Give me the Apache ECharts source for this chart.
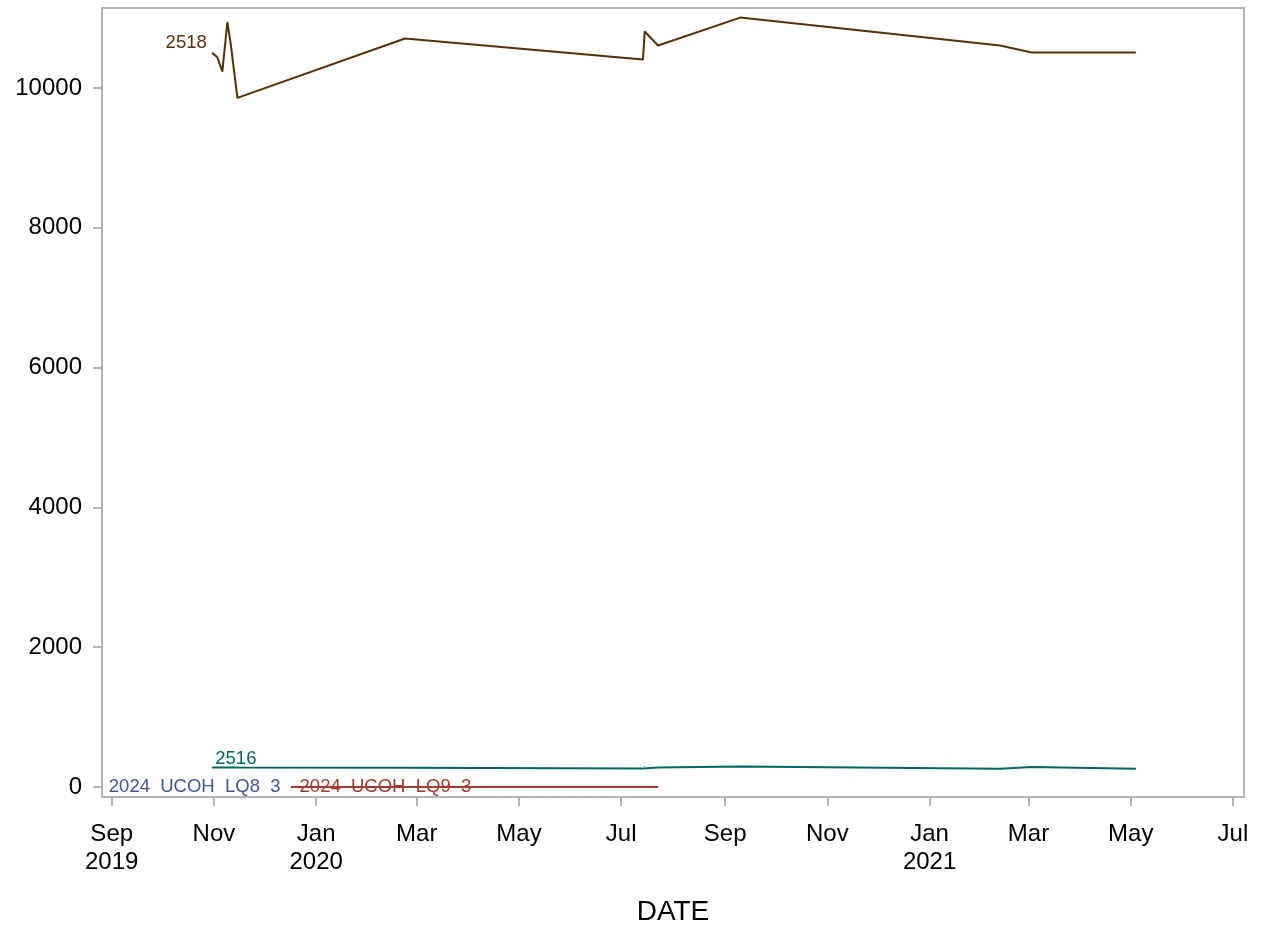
<!DOCTYPE html>
<html><head><meta charset="utf-8">
<script src="https://cdn.jsdelivr.net/npm/echarts@6/dist/echarts.min.js"></script>
<style>html,body{margin:0;padding:0;background:#fff}#c{width:1262px;height:925px}</style>
</head><body><div id="c"></div>
<script>
const tickDates = ['2019-09-01','2019-11-01','2020-01-01','2020-03-01','2020-05-01','2020-07-01','2020-09-01','2020-11-01','2021-01-01','2021-03-01','2021-05-01','2021-07-01'];
const tickLabels = ['Sep\n2019','Nov','Jan\n2020','Mar','May','Jul','Sep','Nov','Jan\n2021','Mar','May','Jul'];
const yTicks = [0, 2000, 4000, 6000, 8000, 10000];

const dates2518 = ['2019-10-31','2019-11-03','2019-11-06','2019-11-09','2019-11-11','2019-11-15','2020-02-23','2020-07-14','2020-07-15','2020-07-23','2020-09-10','2021-02-12','2021-03-03','2021-05-04'];
const values2518 = [10503, 10440, 10236, 10941, 10632, 9860, 10708, 10408, 10808, 10608, 11008, 10608, 10508, 10508];

const dates2516 = ['2019-10-31','2019-11-15','2020-02-23','2020-07-14','2020-07-15','2020-07-23','2020-09-10','2021-02-12','2021-03-03','2021-05-04'];
const values2516 = [280, 278, 275, 265, 292, 278, 292, 262, 287, 262];

const datesLQ9 = ['2019-12-17','2020-02-23','2020-07-14','2020-07-23'];
const valuesLQ9 = [0, 0, 0, 0];

const datesLQ8 = ['2019-12-17'];
const valuesLQ8 = [0];

const names = ['2024  UCOH  LQ8  3', '2024  UCOH  LQ9  3', '2516', '2518'];
const colors = ['#445694', '#A23A2E', '#01665E', '#543005'];

const DAY = 864e5;
const ts = s => { const [y, m, d] = s.split('-').map(Number); return Date.UTC(y, m - 1, d); };
const tickTs = tickDates.map(ts);
const labelMap = {};
tickTs.forEach((t, i) => labelMap[t] = tickLabels[i]);
const xMin = ts('2019-09-01') - 5.8 * DAY;
const xMax = ts('2019-09-01') + 675.6 * DAY;

const font = 'Liberation Sans, Arial, sans-serif';

function build(dates, values, labelOpt) {
  return dates.map((d, i) => {
    const item = { value: [ts(d), values[i]] };
    if (i === 0) item.label = Object.assign({ show: true, fontFamily: font, fontSize: 18.5 }, labelOpt);
    return item;
  });
}

const chart = echarts.init(document.getElementById('c'), null, { renderer: 'canvas' });
const mkSeries = (idx, data) => ({
  name: names[idx], type: 'line', data: data,
  symbol: 'circle', symbolSize: 1, showSymbol: true,
  itemStyle: { color: colors[idx] },
  lineStyle: { color: colors[idx], width: 2 },
  label: { show: false, color: colors[idx] },
  emphasis: { disabled: true }, animation: false, z: 3
});

chart.setOption({
  animation: false,
  grid: { left: 102, right: 18, top: 8, bottom: 128, outerBoundsMode: 'none', containLabel: false, show: true, borderColor: '#b4b4b4', borderWidth: 2, backgroundColor: '#fff' },
  xAxis: {
    type: 'value', min: xMin, max: xMax,
    name: 'DATE', nameLocation: 'middle', nameGap: 101,
    nameTextStyle: { fontFamily: font, fontSize: 28, color: '#000' },
    axisLine: { show: true, onZero: false, lineStyle: { color: '#b4b4b4', width: 2 } },
    axisTick: { show: true, customValues: tickTs, length: 9, lineStyle: { color: '#b4b4b4', width: 2 } },
    axisLabel: { customValues: tickTs, formatter: v => labelMap[v] || '', fontFamily: font, fontSize: 24, lineHeight: 28, color: '#000', margin: 23 },
    splitLine: { show: false }
  },
  yAxis: {
    type: 'value', min: -143, max: 11145,
    axisLine: { show: true, onZero: false, lineStyle: { color: '#b4b4b4', width: 2 } },
    axisTick: { show: true, customValues: yTicks, length: 9, lineStyle: { color: '#b4b4b4', width: 2 } },
    axisLabel: { customValues: yTicks, formatter: v => String(v), fontFamily: font, fontSize: 24, color: '#000', margin: 20 },
    splitLine: { show: false }
  },
  series: [
    mkSeries(0, build(datesLQ8, valuesLQ8, { position: 'left', distance: 10, formatter: names[0], color: colors[0] })),
    mkSeries(1, build(datesLQ9, valuesLQ9, { position: 'right', distance: 8, formatter: names[1], color: colors[1] })),
    mkSeries(2, build(dates2516, values2516, { position: 'top', align: 'left', distance: 1, offset: [3, 2], formatter: names[2], color: colors[2] })),
    mkSeries(3, build(dates2518, values2518, { position: 'left', distance: 5, offset: [0, -10], formatter: names[3], color: colors[3] }))
  ]
});
</script>
</body></html>
